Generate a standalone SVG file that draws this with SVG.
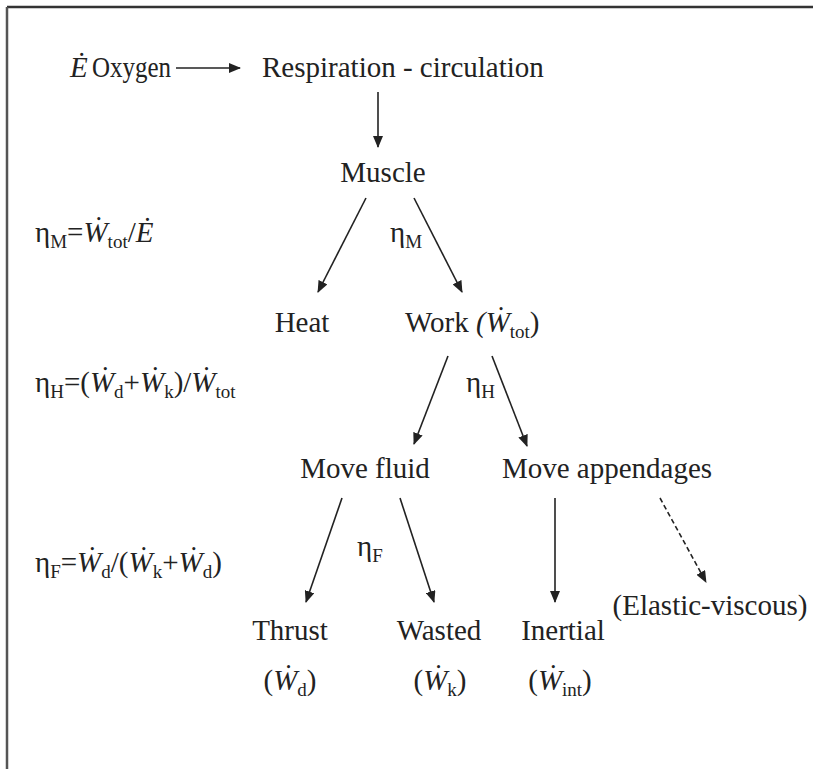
<svg xmlns="http://www.w3.org/2000/svg" width="813" height="769" viewBox="0 0 813 769">
<defs>
<style>
text{font-family:"Liberation Serif","DejaVu Serif",serif;font-size:29px;fill:#222}
.i{font-style:italic}
.s{font-size:19px}
.c{text-anchor:middle}
.ln{stroke:#222;stroke-width:1.6;fill:none}
.d{stroke-dasharray:5 3}
</style>
<marker id="ah" viewBox="0 0 12 10" refX="11" refY="5" markerWidth="12" markerHeight="10" markerUnits="userSpaceOnUse" orient="auto">
<path d="M0,0 L12,5 L0,10 z" fill="#222"/>
</marker>
</defs>
<rect width="813" height="769" fill="#fff"/>
<g id="frame">
<line x1="7" y1="7" x2="813" y2="7" stroke="#333" stroke-width="2.5"/>
<line x1="7" y1="7" x2="7" y2="769" stroke="#555" stroke-width="2.5"/>
</g>
<g id="connectors">
<line class="ln" x1="176" y1="68" x2="240" y2="68" marker-end="url(#ah)"/>
<line class="ln" x1="378" y1="92" x2="378" y2="147" marker-end="url(#ah)"/>
<line class="ln" x1="366" y1="198" x2="318" y2="292" marker-end="url(#ah)"/>
<line class="ln" x1="414" y1="198" x2="462" y2="292" marker-end="url(#ah)"/>
<line class="ln" x1="448" y1="356" x2="414" y2="444" marker-end="url(#ah)"/>
<line class="ln" x1="492" y1="356" x2="527" y2="446" marker-end="url(#ah)"/>
<line class="ln" x1="342" y1="498" x2="306" y2="602" marker-end="url(#ah)"/>
<line class="ln" x1="400" y1="498" x2="434" y2="602" marker-end="url(#ah)"/>
<line class="ln" x1="555" y1="498" x2="555" y2="602" marker-end="url(#ah)"/>
<line class="ln d" x1="660" y1="498" x2="706" y2="582" marker-end="url(#ah)"/>
</g>
<g id="oxygen"><text x="70" y="77"><tspan class="i">Ė</tspan></text><text x="92" y="77" textLength="79" lengthAdjust="spacingAndGlyphs">Oxygen</text></g>
<g id="respiration"><text x="262" y="77">Respiration - circulation</text></g>
<g id="muscle"><text class="c" x="383" y="182">Muscle</text></g>
<g id="etaM-label"><text x="390" y="242">η<tspan class="s" dy="6">M</tspan></text></g>
<g id="etaM-formula"><text x="35" y="242">η<tspan class="s" dy="6">M</tspan><tspan dy="-6">=</tspan><tspan class="i">Ẇ</tspan><tspan class="s" dy="6">tot</tspan><tspan dy="-6">/</tspan><tspan class="i">Ė</tspan></text></g>
<g id="heat"><text class="c" x="302" y="332">Heat</text></g>
<g id="work"><text x="405" y="332">Work <tspan class="i">(Ẇ</tspan><tspan class="s" dy="6">tot</tspan><tspan dy="-6">)</tspan></text></g>
<g id="etaH-formula"><text x="35" y="392">η<tspan class="s" dy="6">H</tspan><tspan dy="-6">=(</tspan><tspan class="i">Ẇ</tspan><tspan class="s" dy="6">d</tspan><tspan dy="-6">+</tspan><tspan class="i">Ẇ</tspan><tspan class="s" dy="6">k</tspan><tspan dy="-6">)/</tspan><tspan class="i">Ẇ</tspan><tspan class="s" dy="6">tot</tspan></text></g>
<g id="etaH-label"><text x="466" y="392">η<tspan class="s" dy="6">H</tspan></text></g>
<g id="move-fluid"><text class="c" x="365" y="478">Move fluid</text></g>
<g id="move-appendages"><text class="c" x="607" y="478">Move appendages</text></g>
<g id="etaF-label"><text x="357" y="556">η<tspan class="s" dy="6">F</tspan></text></g>
<g id="etaF-formula"><text x="35" y="572">η<tspan class="s" dy="6">F</tspan><tspan dy="-6">=</tspan><tspan class="i">Ẇ</tspan><tspan class="s" dy="6">d</tspan><tspan dy="-6">/(</tspan><tspan class="i">Ẇ</tspan><tspan class="s" dy="6">k</tspan><tspan dy="-6">+</tspan><tspan class="i">Ẇ</tspan><tspan class="s" dy="6">d</tspan><tspan dy="-6">)</tspan></text></g>
<g id="elastic"><text class="c" x="710" y="615">(Elastic-viscous)</text></g>
<g id="thrust"><text class="c" x="290" y="640">Thrust</text><text class="c" x="290" y="690">(<tspan class="i">Ẇ</tspan><tspan class="s" dy="6">d</tspan><tspan dy="-6">)</tspan></text></g>
<g id="wasted"><text class="c" x="439" y="640">Wasted</text><text class="c" x="440" y="690">(<tspan class="i">Ẇ</tspan><tspan class="s" dy="6">k</tspan><tspan dy="-6">)</tspan></text></g>
<g id="inertial"><text class="c" x="563" y="640">Inertial</text><text class="c" x="560" y="690">(<tspan class="i">Ẇ</tspan><tspan class="s" dy="6">int</tspan><tspan dy="-6">)</tspan></text></g>
</svg>
